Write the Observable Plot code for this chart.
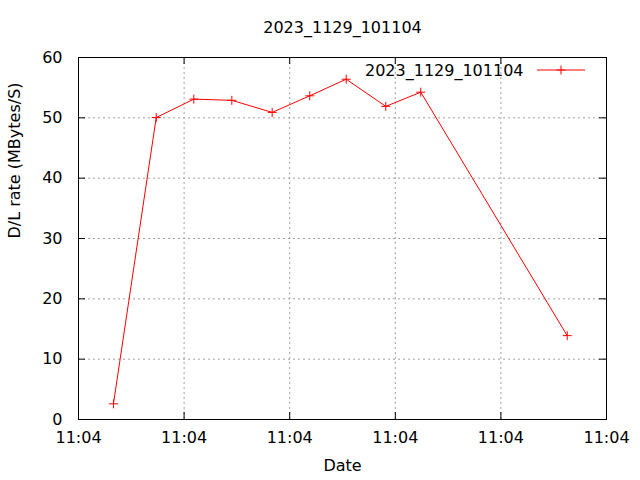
<!DOCTYPE html>
<html><head><meta charset="utf-8">
<script src="https://cdn.jsdelivr.net/npm/d3@7"></script>
<script src="https://cdn.jsdelivr.net/npm/@observablehq/plot@0.6"></script>
<style>body{margin:0;background:#fff}</style>
</head><body><div id="chart"></div>
<script>
const title = "2023_1129_101104";
const seriesName = "2023_1129_101104";
const xLabel = "Date";
const yLabel = "D/L rate (MBytes/S)";
const times = ["2023-11-29T11:04:03.31Z","2023-11-29T11:04:07.36Z","2023-11-29T11:04:10.92Z","2023-11-29T11:04:14.52Z","2023-11-29T11:04:18.34Z","2023-11-29T11:04:21.90Z","2023-11-29T11:04:25.35Z","2023-11-29T11:04:29.10Z","2023-11-29T11:04:32.41Z","2023-11-29T11:04:46.28Z"];
const rates = [2.6, 50.05, 53.1, 52.9, 50.9, 53.65, 56.4, 51.9, 54.25, 13.9];
const xTickTimes = ["2023-11-29T11:04:00Z","2023-11-29T11:04:10Z","2023-11-29T11:04:20Z","2023-11-29T11:04:30Z","2023-11-29T11:04:40Z","2023-11-29T11:04:50Z"];
const yTicks = [0, 10, 20, 30, 40, 50, 60];

const data = times.map((t, i) => ({date: new Date(t), rate: rates[i]}));
const xTicks = xTickTimes.map(t => new Date(t));

const W = 640, H = 480, mL = 78, mR = 34, mT = 57, mB = 61;
const fw = W - mL - mR, fh = H - mT - mB, tl = 7;

const plus = {draw(ctx, size) {
  const r = Math.sqrt(size / Math.PI);
  ctx.moveTo(-r, 0); ctx.lineTo(r, 0);
  ctx.moveTo(0, -r); ctx.lineTo(0, r);
}};

const svg = Plot.plot({
  width: W, height: H,
  marginLeft: mL, marginRight: mR, marginTop: mT, marginBottom: mB,
  style: {fontFamily: "DejaVu Sans", fontSize: "16px", color: "black", background: "white"},
  x: {type: "utc", domain: [xTicks[0], xTicks[xTicks.length - 1]]},
  y: {domain: [0, 60]},
  marks: [
    Plot.ruleX(xTicks.slice(1, -1), {x: d => d, stroke: "#a0a0a0", strokeDasharray: "2,3"}),
    Plot.ruleY(yTicks.slice(1, -1), {y: d => d, stroke: "#a0a0a0", strokeDasharray: "2,3"}),
    Plot.tickX(xTicks, {x: d => d, insetTop: fh - tl, stroke: "black"}),
    Plot.tickX(xTicks, {x: d => d, insetBottom: fh - tl, stroke: "black"}),
    Plot.tickY(yTicks, {y: d => d, insetRight: fw - tl, stroke: "black"}),
    Plot.tickY(yTicks, {y: d => d, insetLeft: fw - tl, stroke: "black"}),
    Plot.axisX(xTicks, {tickSize: 0, tickPadding: 12, tickFormat: d3.utcFormat("%H:%M"), label: null, fontSize: 16}),
    Plot.axisY(yTicks, {tickSize: 0, tickPadding: 16, label: null, fontSize: 16}),
    Plot.frame({stroke: "black"}),
    Plot.line(data, {x: "date", y: "rate", stroke: "red", strokeWidth: 1}),
    Plot.dot(data, {x: "date", y: "rate", symbol: plus, r: 4.5, stroke: "red", fill: "none", strokeWidth: 1}),
    Plot.text([title], {frameAnchor: "top", dy: -30, lineAnchor: "middle", fontSize: 16, fill: "black"}),
    Plot.text([xLabel], {frameAnchor: "bottom", dy: 46, lineAnchor: "middle", fontSize: 16, fill: "black"}),
    Plot.text([yLabel], {frameAnchor: "left", dx: -64, rotate: -90, fontSize: 16, fill: "black"}),
    Plot.text([seriesName], {frameAnchor: "top-right", dx: -83, dy: 13, lineAnchor: "middle", textAnchor: "end", fontSize: 16, fill: "black"})
  ]
});

const ly = mT + 13, lx1 = W - mR - 69, lx2 = W - mR - 21, lxm = (lx1 + lx2) / 2;
const g = d3.select(svg).append("g").attr("stroke", "red").attr("fill", "none");
g.append("line").attr("x1", lx1).attr("x2", lx2).attr("y1", ly).attr("y2", ly);
g.append("path").attr("d", `M${lxm - 4.5},${ly}H${lxm + 4.5}M${lxm},${ly - 4.5}V${ly + 4.5}`);

document.getElementById("chart").appendChild(svg);
</script>
</body></html>
